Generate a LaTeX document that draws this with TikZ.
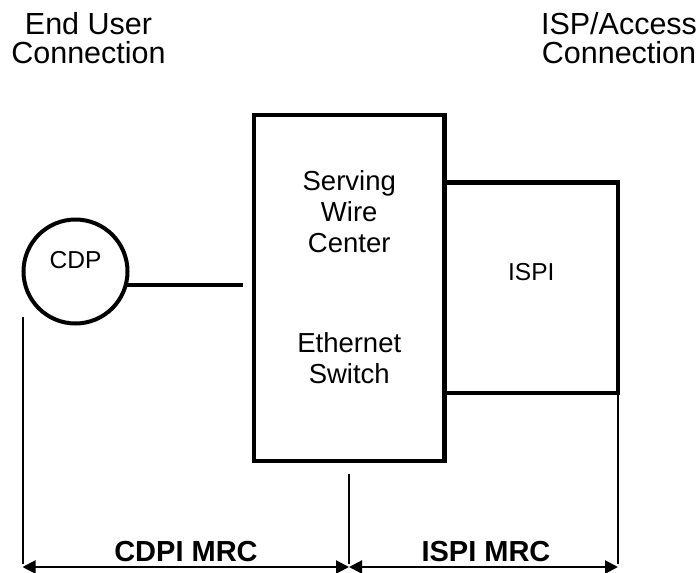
\documentclass[tikz,border=0pt]{standalone}
\usepackage{fontspec}
\setmainfont{Liberation Sans}
\usetikzlibrary{arrows.meta}
\begin{document}
\begin{tikzpicture}[x=1pt,y=-1pt,
  heavybox/.style={draw, line width=4.5pt, rectangle, inner sep=0pt, outer sep=0pt},
  cdpcircle/.style={draw, line width=4pt, circle, inner sep=0pt, outer sep=0pt, minimum size=104pt},
  heavyline/.style={line width=4pt},
  thinline/.style={line width=2pt},
  dimarrow/.style={line width=2.2pt, {Triangle[length=13pt,width=13pt]}-{Triangle[length=13pt,width=13pt]}},
  toplabel/.style={align=center, inner sep=0pt, anchor=base, font=\fontsize{30.5}{29}\selectfont},
  boxlabel/.style={align=center, inner sep=0pt, anchor=base, font=\fontsize{27.5}{31}\selectfont},
  smalllabel/.style={inner sep=0pt, anchor=base, font=\fontsize{24.5}{28}\selectfont},
  dimlabel/.style={inner sep=0pt, anchor=base, font=\fontsize{29}{32}\selectfont\bfseries}
]
\useasboundingbox (0,0) rectangle (699,573);
\fill[white] (0,0) rectangle (699,573);

% boxes
\node[heavybox, minimum width=190.5pt, minimum height=346pt] (main) at (349.25,288) {};
\node[heavybox, minimum width=173.5pt, minimum height=210.5pt] (ispi) at (531.25,287.75) {};
\node[cdpcircle] (cdp) at (75.5,271.5) {};

% connector CDP -> switch
\coordinate (lineend) at (243,285);
\draw[heavyline] (cdp.-15) -- (cdp.-15 -| lineend);

% vertical reference lines
\coordinate (l1) at (22.5,317);
\coordinate (c1) at (349,474);
\coordinate (a1) at (22.5,567);
\coordinate (a2) at (349,567);
\coordinate (a3) at (618,567);
\draw[thinline] (l1) -- ([yshift=3pt]a1);
\draw[thinline] (c1) -- ([yshift=3pt]a2);
\draw[thinline] (ispi.south east) -- ([yshift=3pt]a3);

% dimension arrows
\draw[dimarrow] (a1) -- (a2);
\draw[dimarrow] (a2) -- (a3);

% texts (base anchor = baseline of last line)
\node[toplabel] (enduser) at (88.5,63) {End User\\Connection};
\node[toplabel] (ispacc) at (619,63) {ISP/Access\\Connection};
\node[smalllabel] (cdptext) at (75.5,268) {CDP};
\node[boxlabel] (swc) at (349.25,252) {Serving\\Wire\\Center};
\node[boxlabel] (eth) at (349.25,383) {Ethernet\\Switch};
\node[smalllabel] (ispitext) at (531.25,280) {ISPI};
\node[dimlabel] (cdpimrc) at (186,561) {CDPI MRC};
\node[dimlabel] (ispimrc) at (486,561) {ISPI MRC};
\end{tikzpicture}
\end{document}
